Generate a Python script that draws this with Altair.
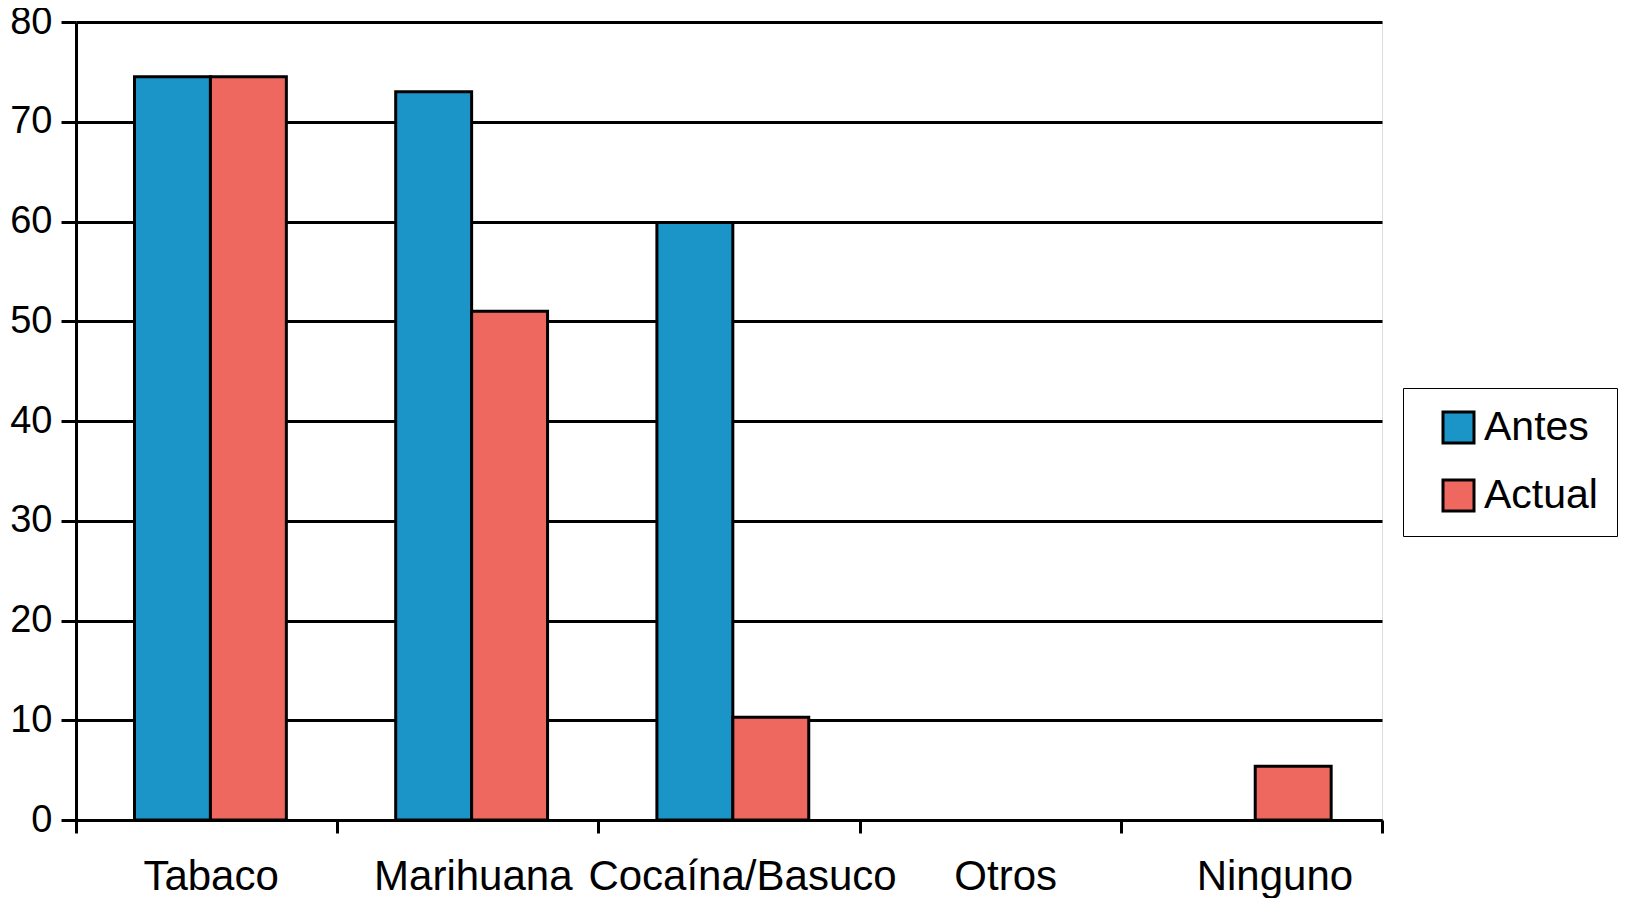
import altair as alt
import pandas as pd

categories = ["Tabaco", "Marihuana", "Cocaína/Basuco", "Otros", "Ninguno"]
antes = [74.5, 73.0, 59.9, 0.0, 0.0]
actual = [74.5, 51.0, 10.3, 0.0, 5.4]
series = ["Antes", "Actual"]
colors = ["#1B94C8", "#EE6860"]
# horizontal nudge of each category label (as set in the original)
label_nudge = [4, 5, 13, 15, 23]

rows = []
for c, a, b in zip(categories, antes, actual):
    rows.append({"Categoria": c, "Serie": "Antes", "Valor": a})
    rows.append({"Categoria": c, "Serie": "Actual", "Valor": b})
df = pd.DataFrame(rows)

FONT = "Liberation Sans"

label_offset = {
    "condition": [
        {"test": f"datum.value == '{c}'", "value": n}
        for c, n in zip(categories, label_nudge)
    ],
    "value": 0,
}

chart = (
    alt.Chart(df)
    .transform_filter("datum.Valor > 0")
    .mark_bar(stroke="black", strokeWidth=3, opacity=1)
    .encode(
        x=alt.X(
            "Categoria:N",
            sort=categories,
            title=None,
            scale=alt.Scale(domain=categories, paddingInner=0, paddingOuter=0),
            axis=alt.Axis(
                labelAngle=0,
                labelFontSize=42,
                labelFont=FONT,
                labelColor="black",
                labelPadding=23,
                labelLimit=600,
                labelOverlap=False,
                labelOffset=label_offset,
                tickBand="extent",
                ticks=True,
                tickSize=13,
                tickWidth=3,
                tickColor="black",
                domainColor="black",
                domainWidth=3,
                grid=False,
                labelBaseline="top",
            ),
        ),
        xOffset=alt.XOffset(
            "Serie:N",
            sort=series,
            scale=alt.Scale(domain=series, paddingInner=0, paddingOuter=0.72, align=0.535),
        ),
        y=alt.Y(
            "Valor:Q",
            title=None,
            scale=alt.Scale(domain=[0, 80], nice=False),
            axis=alt.Axis(
                values=[0, 10, 20, 30, 40, 50, 60, 70, 80],
                labelFontSize=38,
                labelFont=FONT,
                labelColor="black",
                labelPadding=9,
                tickSize=15,
                tickWidth=3,
                tickColor="black",
                domainColor="black",
                domainWidth=3,
                grid=True,
                gridColor="black",
                gridWidth=3,
                gridOpacity=1,
            ),
        ),
        color=alt.Color(
            "Serie:N",
            sort=series,
            scale=alt.Scale(domain=series, range=colors),
            legend=alt.Legend(
                title=None,
                orient="none",
                legendX=1327,
                legendY=366,
                symbolType="square",
                symbolSize=961,
                symbolStrokeColor="black",
                symbolStrokeWidth=3,
                symbolOpacity=1,
                labelFontSize=41,
                labelFont=FONT,
                labelColor="black",
                labelOffset=5,
                rowPadding=25,
                padding=19,
                symbolOffset=16,
                strokeColor="black",
                fillColor="white",
            ),
        ),
    )
    .properties(
        width=1306,
        height=798,
        autosize=alt.AutoSizeParams(type="none"),
        padding={"left": 68, "top": 14, "right": 236, "bottom": 78},
    )
    .configure_view(stroke=None)
    .configure_legend(strokeWidth=3)
    .configure(font=FONT)
)

chart.save("out.html", embed_options={"renderer": "svg", "actions": False})
